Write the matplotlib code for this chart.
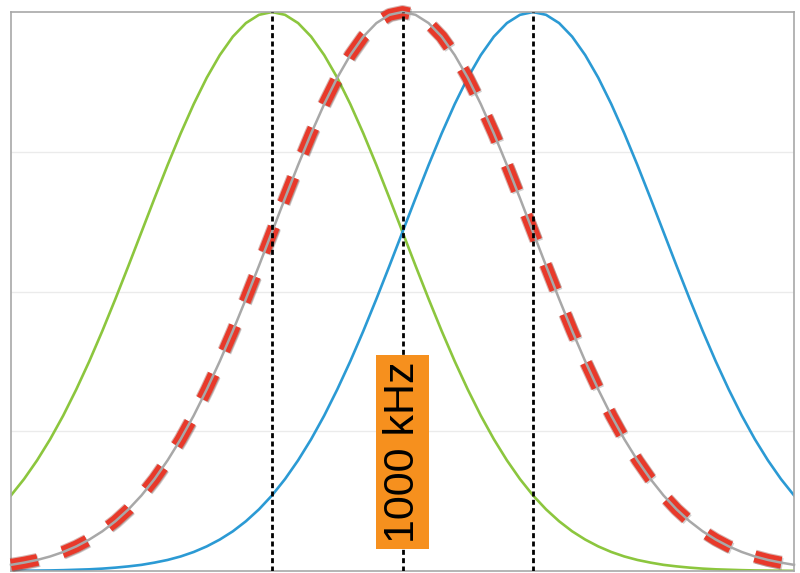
import matplotlib.pyplot as plt
import matplotlib.patheffects as pe

# -----------------------------
# Data: one channel response, read off the picture, sampled every 0.1 unit
# of offset from its own centre. Three channels share this shape.
# -----------------------------
OFFSET = [-4.0, -3.9, -3.8, -3.7, -3.6, -3.5, -3.4, -3.3, -3.2, -3.1,
          -3.0, -2.9, -2.8, -2.7, -2.6, -2.5, -2.4, -2.3, -2.2, -2.1,
          -2.0, -1.9, -1.8, -1.7, -1.6, -1.5, -1.4, -1.3, -1.2, -1.1,
          -1.0, -0.9, -0.8, -0.7, -0.6, -0.5, -0.4, -0.3, -0.2, -0.1,
          0.0,
          0.1, 0.2, 0.3, 0.4, 0.5, 0.6, 0.7, 0.8, 0.9, 1.0,
          1.1, 1.2, 1.3, 1.4, 1.5, 1.6, 1.7, 1.8, 1.9, 2.0,
          2.1, 2.2, 2.3, 2.4, 2.5, 2.6, 2.7, 2.8, 2.9, 3.0,
          3.1, 3.2, 3.3, 3.4, 3.5, 3.6, 3.7, 3.8, 3.9, 4.0]

RESPONSE = [0.001, 0.002, 0.003, 0.004, 0.006, 0.009, 0.012, 0.017, 0.024, 0.033,
            0.044, 0.060, 0.079, 0.104, 0.136, 0.176, 0.225, 0.284, 0.356, 0.441,
            0.541, 0.658, 0.792, 0.943, 1.112, 1.299, 1.501, 1.718, 1.947, 2.184,
            2.426, 2.668, 2.905, 3.131, 3.341, 3.530, 3.692, 3.824, 3.921, 3.980,
            4.000,
            3.980, 3.921, 3.824, 3.692, 3.530, 3.341, 3.131, 2.905, 2.668, 2.426,
            2.184, 1.947, 1.718, 1.501, 1.299, 1.112, 0.943, 0.792, 0.658, 0.541,
            0.441, 0.356, 0.284, 0.225, 0.176, 0.136, 0.104, 0.079, 0.060, 0.044,
            0.033, 0.024, 0.017, 0.012, 0.009, 0.006, 0.004, 0.003, 0.002, 0.001]

CHANNEL_CENTRES = {"low": -1.0, "centre": 0.0, "high": 1.0}
CENTER_LABEL = "1000 kHz"
GRID_LEVELS = [1, 2, 3]
X_RANGE = (-3.0, 3.0)

GREEN = "#8cc63e"
BLUE = "#2b9ad4"
GREY = "#a8a8a8"
RED = "#e8392a"
ORANGE = "#f6901e"


def channel(centre):
    """Shift the shared response to a channel centre, keep what lies in the plot range."""
    pts = [(o + centre, r) for o, r in zip(OFFSET, RESPONSE)
           if X_RANGE[0] - 1e-9 <= o + centre <= X_RANGE[1] + 1e-9]
    return [p[0] for p in pts], [p[1] for p in pts]


fig = plt.figure(figsize=(8.0, 5.73), dpi=100)
ax = fig.add_axes([0.01375, 0.0035, 0.97875, 0.9755])

for lvl in GRID_LEVELS:
    ax.axhline(lvl, color="#ebebeb", lw=1.0, zorder=0)

x_lo, y_lo = channel(CHANNEL_CENTRES["low"])
x_hi, y_hi = channel(CHANNEL_CENTRES["high"])
x_c, y_c = channel(CHANNEL_CENTRES["centre"])

ax.plot(x_lo, y_lo, color=GREEN, lw=1.9, zorder=2)
ax.plot(x_hi, y_hi, color=BLUE, lw=1.9, zorder=2)

# thick red dashes with a soft dark edge, grey line running through them
ax.plot(x_c, y_c, color=RED, lw=8.5, linestyle=(0, (2.3, 2.2)),
        clip_on=False, zorder=3,
        path_effects=[pe.SimpleLineShadow(offset=(1.0, -1.0), shadow_color="k", alpha=0.18),
                      pe.Stroke(linewidth=10, foreground="#8a2a1e", alpha=0.35),
                      pe.Normal()])
ax.plot(x_c, y_c, color=GREY, lw=1.8, clip_on=False, zorder=4)

for c in CHANNEL_CENTRES.values():
    ax.axvline(c, color="black", lw=2.0, linestyle=(0, (1.8, 1.2)), zorder=5)

ax.text(CHANNEL_CENTRES["centre"], 0.85, CENTER_LABEL, rotation=90, ha="center", va="center",
        fontsize=31, family="Liberation Sans", color="black", zorder=6,
        bbox=dict(boxstyle="square,pad=0.15", facecolor=ORANGE, edgecolor="none"))

ax.set_xlim(*X_RANGE)
ax.set_ylim(0, 4.0)
ax.set_xticks([])
ax.set_yticks([])
for s in ax.spines.values():
    s.set_color("#a8a8a8")
    s.set_linewidth(1.2)

fig.savefig("out.png", dpi=100)
